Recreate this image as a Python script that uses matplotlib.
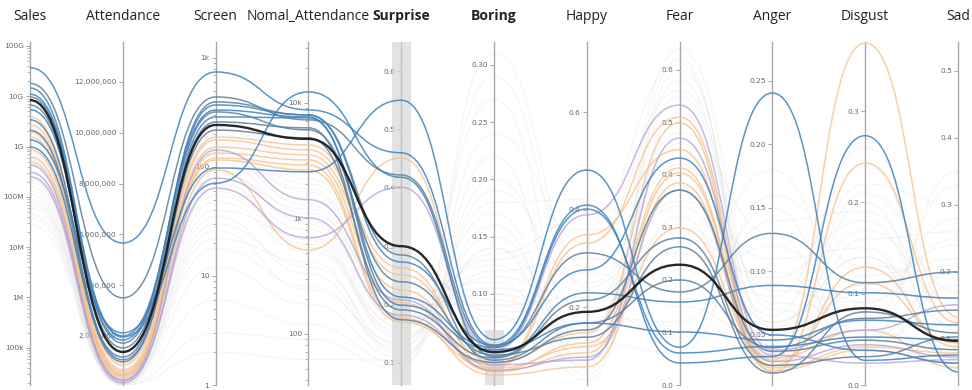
import numpy as np
import matplotlib
matplotlib.use("Agg")
import matplotlib.pyplot as plt
from matplotlib.path import Path
from matplotlib.patches import PathPatch, Rectangle
from matplotlib.ticker import FixedLocator, FuncFormatter, NullFormatter

# ---------------------------------------------------------------- data
dimensions = ["Sales", "Attendance", "Screen", "Nomal_Attendance", "Surprise",
              "Boring", "Happy", "Fear", "Anger", "Disgust", "Sad"]
bold_dims = ["Surprise", "Boring"]

# highlighted (selected) films
group_hi = ["black", "blue", "gblue", "blue", "blue", "gblue", "blue", "orange",
            "orange", "purple", "gblue", "orange", "blue", "orange", "gblue",
            "purple", "orange", "blue", "orange", "gblue", "orange", "purple"]
sales_hi = [8.4e9, 3.7e10, 1.8e10, 1.35e9, 1.1e10, 9.7e9, 5.4e9, 3.9e9, 2.7e9, 3.1e8,
            6.7e9, 1.95e9, 9.8e8, 6.2e8, 3.4e9, 2.5e8, 1.55e9, 1.46e10, 4.9e8, 2.1e9,
            8.6e8, 4.3e8]
attendance_hi = [1370000, 5660000, 3500000, 2120000, 1960000, 1720000, 1840000, 860000,
                 660000, 270000, 1530000, 460000, 1170000, 350000, 1060000, 150000,
                 580000, 2000000, 430000, 980000, 500000, 230000]
screen_hi = [243, 744, 439, 98, 71, 395, 371, 188, 177, 64, 320, 152, 288, 134, 218, 79,
             121, 333, 94, 259, 116, 143]
nomal_hi = [4880, 8700, 7130, 2530, 12450, 7870, 7870, 4330, 3920, 678, 5840, 3550, 7420,
            3210, 4980, 1010, 2900, 7570, 533, 6080, 2630, 1450]
surprise_hi = [0.30, 0.46, 0.422, 0.55, 0.418, 0.285, 0.273, 0.263, 0.251, 0.401, 0.239,
               0.225, 0.213, 0.203, 0.191, 0.182, 0.177, 0.199, 0.451, 0.174, 0.170, 0.208]
boring_hi = [0.049, 0.055, 0.0535, 0.060, 0.045, 0.042, 0.055, 0.035, 0.040, 0.051,
             0.0465, 0.033, 0.053, 0.032, 0.044, 0.038, 0.029, 0.051, 0.037, 0.040,
             0.035, 0.033]
happy_hi = [0.19, 0.276, 0.311, 0.481, 0.229, 0.167, 0.409, 0.331, 0.147, 0.389, 0.138,
            0.126, 0.401, 0.106, 0.214, 0.091, 0.077, 0.167, 0.348, 0.153, 0.118, 0.097]
fear_hi = [0.229, 0.432, 0.177, 0.072, 0.158, 0.20, 0.042, 0.51, 0.499, 0.533, 0.263,
           0.413, 0.061, 0.404, 0.28, 0.47, 0.385, 0.101, 0.448, 0.371, 0.299, 0.371]
anger_hi = [0.054, 0.050, 0.130, 0.2405, 0.089, 0.040, 0.033, 0.030, 0.021, 0.038, 0.020,
            0.026, 0.041, 0.024, 0.026, 0.034, 0.022, 0.046, 0.029, 0.037, 0.032, 0.029]
disgust_hi = [0.084, 0.038, 0.112, 0.027, 0.101, 0.073, 0.273, 0.3745, 0.243, 0.060,
              0.080, 0.129, 0.0525, 0.0415, 0.031, 0.024, 0.038, 0.071, 0.112, 0.049,
              0.060, 0.044]
sad_hi = [0.097, 0.064, 0.20, 0.076, 0.161, 0.143, 0.051, 0.133, 0.124, 0.151, 0.109,
          0.088, 0.099, 0.079, 0.103, 0.069, 0.064, 0.121, 0.094, 0.084, 0.057, 0.073]

# films outside the current brush selection (drawn faded)
sales_bg = [2.1e9, 7.5e8, 4.2e8, 1.6e8, 9.0e7, 3.3e9, 1.2e9, 5.5e8, 2.6e8, 6.0e7, 1.8e9,
            8.8e8, 3.0e8, 1.1e8, 4.5e7, 2.4e9, 6.5e8, 1.9e8, 7.0e7, 1.4e9, 5.0e8, 2.2e8,
            1.3e8, 3.8e7, 9.5e8, 3.6e8, 8.0e7, 2.8e7]
attendance_bg = [950000, 520000, 380000, 220000, 140000, 1100000, 700000, 450000, 300000,
                 100000, 850000, 600000, 330000, 180000, 90000, 1250000, 550000, 260000,
                 120000, 780000, 410000, 280000, 200000, 80000, 660000, 360000, 160000,
                 70000]
screen_bg = [180, 120, 85, 40, 22, 230, 150, 95, 55, 12, 200, 130, 70, 30, 6, 260, 110, 48,
             18, 160, 90, 60, 35, 3, 140, 75, 26, 2]
nomal_bg = [2200, 1500, 1200, 700, 420, 2800, 1800, 950, 600, 180, 2500, 1300, 800, 380,
            120, 3100, 1100, 520, 260, 2000, 900, 650, 330, 90, 1700, 560, 240, 60]
surprise_bg = [0.24, 0.20, 0.17, 0.15, 0.12, 0.27, 0.22, 0.18, 0.14, 0.11, 0.25, 0.19,
               0.16, 0.13, 0.10, 0.29, 0.21, 0.155, 0.125, 0.23, 0.175, 0.145, 0.115,
               0.09, 0.195, 0.165, 0.135, 0.105]
boring_bg = [0.08, 0.09, 0.10, 0.12, 0.14, 0.085, 0.11, 0.13, 0.16, 0.19, 0.095, 0.105,
             0.15, 0.18, 0.22, 0.075, 0.125, 0.17, 0.24, 0.09, 0.115, 0.14, 0.20, 0.31,
             0.10, 0.135, 0.27, 0.29]
happy_bg = [0.12, 0.22, 0.08, 0.30, 0.15, 0.18, 0.10, 0.36, 0.06, 0.25, 0.14, 0.20, 0.11,
            0.42, 0.07, 0.27, 0.16, 0.09, 0.33, 0.13, 0.21, 0.05, 0.19, 0.28, 0.17, 0.38,
            0.12, 0.24]
fear_bg = [0.55, 0.30, 0.62, 0.18, 0.45, 0.12, 0.58, 0.25, 0.50, 0.35, 0.64, 0.09, 0.40,
           0.22, 0.60, 0.15, 0.48, 0.32, 0.56, 0.06, 0.42, 0.52, 0.28, 0.38, 0.20, 0.61,
           0.46, 0.34]
anger_bg = [0.06, 0.09, 0.03, 0.12, 0.05, 0.15, 0.04, 0.08, 0.025, 0.11, 0.07, 0.14,
            0.035, 0.10, 0.055, 0.045, 0.13, 0.02, 0.075, 0.16, 0.065, 0.03, 0.095, 0.05,
            0.18, 0.04, 0.085, 0.06]
disgust_bg = [0.14, 0.05, 0.20, 0.09, 0.17, 0.03, 0.11, 0.24, 0.07, 0.15, 0.04, 0.19,
              0.12, 0.06, 0.22, 0.10, 0.02, 0.16, 0.08, 0.13, 0.26, 0.05, 0.18, 0.11,
              0.07, 0.21, 0.09, 0.14]
sad_bg = [0.12, 0.20, 0.07, 0.28, 0.15, 0.09, 0.24, 0.11, 0.33, 0.06, 0.18, 0.13, 0.22,
          0.08, 0.30, 0.16, 0.10, 0.26, 0.05, 0.19, 0.14, 0.35, 0.09, 0.21, 0.12, 0.17,
          0.25, 0.07]

# brush extents on the brushed dimensions
surprise_brush = (0.0623, 0.6497)
boring_brush = (0.0203, 0.068)

# ---------------------------------------------------------------- axis setup
scales = ["log", "linear", "log", "log", "linear", "linear", "linear", "linear",
          "linear", "linear", "linear"]
limits = [(1.82e4, 1.2e11), (7e4, 1.357e7), (1.0, 1402), (36, 33700), (0.0623, 0.6497),
          (0.0203, 0.320), (0.040, 0.7436), (0.0, 0.653), (0.0106, 0.2807),
          (0.0, 0.3756), (0.0313, 0.543)]


def si_label(v):
    for f, s in ((1e9, "G"), (1e6, "M"), (1e3, "k")):
        if v >= f:
            return f"{v / f:g}{s}"
    return f"{v:g}"


major_ticks = [
    [1e5, 1e6, 1e7, 1e8, 1e9, 1e10, 1e11],
    [2e6, 4e6, 6e6, 8e6, 10e6, 12e6],
    [1, 10, 100, 1000],
    [100, 1000, 10000],
    [0.1, 0.2, 0.3, 0.4, 0.5, 0.6],
    [0.05, 0.10, 0.15, 0.20, 0.25, 0.30],
    [0.2, 0.4, 0.6],
    [0.0, 0.1, 0.2, 0.3, 0.4, 0.5, 0.6],
    [0.05, 0.10, 0.15, 0.20, 0.25],
    [0.0, 0.1, 0.2, 0.3],
    [0.1, 0.2, 0.3, 0.4, 0.5],
]
formatters = [
    si_label,
    lambda v: f"{v:,.0f}",
    si_label,
    si_label,
    lambda v: f"{v:.1f}",
    lambda v: f"{v:.2f}",
    lambda v: f"{v:.1f}",
    lambda v: f"{v:.1f}",
    lambda v: f"{v:.2f}",
    lambda v: f"{v:.1f}",
    lambda v: f"{v:.1f}",
]

W, H = 972, 390
x_left, x_right = 30, 958
y_top, y_bot = 42, 385
n = len(dimensions)
step_px = (x_right - x_left) / (n - 1)

fig = plt.figure(figsize=(W / 100, H / 100), dpi=100)
fig.patch.set_facecolor("white")

axis_col = "#a8a8a8"
tick_col = "#666666"
dim_axes = []
for i, name in enumerate(dimensions):
    xp = x_left + i * step_px
    ax = fig.add_axes([xp / W, 1 - y_bot / H, 0.00001, (y_bot - y_top) / H], zorder=1)
    ax.set_yscale(scales[i])
    ax.set_ylim(*limits[i])
    ax.set_xticks([])
    for s in ("right", "top", "bottom"):
        ax.spines[s].set_visible(False)
    ax.spines["left"].set_color(axis_col)
    ax.spines["left"].set_linewidth(1.0)
    ax.patch.set_alpha(0)
    ax.yaxis.set_major_locator(FixedLocator(major_ticks[i]))
    fmt = formatters[i]
    ax.yaxis.set_major_formatter(FuncFormatter(lambda v, p, f=fmt: f(v)))
    if scales[i] == "log":
        lo, hi = limits[i]
        minors = [m * 10 ** e for e in range(int(np.floor(np.log10(lo))), int(np.ceil(np.log10(hi))) + 1)
                  for m in range(2, 10) if lo <= m * 10 ** e <= hi]
        ax.yaxis.set_minor_locator(FixedLocator(minors))
        ax.yaxis.set_minor_formatter(NullFormatter())
        ax.tick_params(axis="y", which="minor", length=2, width=0.6, color=axis_col)
    else:
        ax.yaxis.set_minor_locator(FixedLocator([]))
    ax.tick_params(axis="y", which="major", length=3, width=0.7, color=axis_col,
                   labelsize=5.3, labelcolor=tick_col, pad=1.5)
    for lbl in ax.get_yticklabels():
        lbl.set_fontfamily("DejaVu Sans")
    dim_axes.append(ax)
    fig.text(xp / W, 1 - 16 / H, name, ha="center", va="center",
             fontsize=10, family="Open Sans", color="#222222",
             fontweight="bold" if name in bold_dims else "normal")

# host axes for the polylines, in (dimension index, axis fraction) coordinates
host = fig.add_axes([x_left / W, 1 - y_bot / H, (x_right - x_left) / W, (y_bot - y_top) / H],
                    zorder=2)
host.set_xlim(0, n - 1)
host.set_ylim(0, 1)
host.axis("off")
host.patch.set_alpha(0)


def to_frac(i, v):
    ax = dim_axes[i]
    return (ax.transScale + ax.transLimits).transform((0.5, v))[1]


def draw_line(values, color, lw, alpha, z):
    ys = [to_frac(i, v) for i, v in enumerate(values)]
    verts = [(0, ys[0])]
    codes = [Path.MOVETO]
    for i in range(n - 1):
        verts += [(i + 0.5, ys[i]), (i + 0.5, ys[i + 1]), (i + 1, ys[i + 1])]
        codes += [Path.CURVE4] * 3
    host.add_patch(PathPatch(Path(verts, codes), facecolor="none", edgecolor=color,
                             lw=lw, alpha=alpha, zorder=z, capstyle="round",
                             joinstyle="round"))


# brushes
half_w = 9.5 / step_px
for i, (lo, hi) in ((4, surprise_brush), (5, boring_brush)):
    y0, y1 = to_frac(i, lo), to_frac(i, hi)
    host.add_patch(Rectangle((i - half_w, y0), 2 * half_w, y1 - y0, facecolor="#d4d4d4",
                             edgecolor="none", alpha=0.65, zorder=0.5))

bg_cols = [sales_bg, attendance_bg, screen_bg, nomal_bg, surprise_bg, boring_bg,
           happy_bg, fear_bg, anger_bg, disgust_bg, sad_bg]
hi_cols = [sales_hi, attendance_hi, screen_hi, nomal_hi, surprise_hi, boring_hi,
           happy_hi, fear_hi, anger_hi, disgust_hi, sad_hi]

for k in range(len(sales_bg)):
    draw_line([c[k] for c in bg_cols], "#cfcfcf", 0.8, 0.2, 1)

palette = {"blue": "#3f82bd", "gblue": "#5d7f9d", "orange": "#f6c08a",
           "purple": "#b3a0d2", "black": "#1c1c1c"}
order = sorted(range(len(sales_hi)), key=lambda k: {"orange": 0, "purple": 1, "gblue": 2,
                                                     "blue": 3, "black": 4}[group_hi[k]])
for k in order:
    g = group_hi[k]
    lw = 1.7 if g == "black" else 1.1
    alpha = 0.95 if g == "black" else (0.75 if g in ("orange", "purple") else 0.85)
    draw_line([c[k] for c in hi_cols], palette[g], lw, alpha, 3 + order.index(k) * 0.01)

fig.savefig("out.png", dpi=100, facecolor="white")
